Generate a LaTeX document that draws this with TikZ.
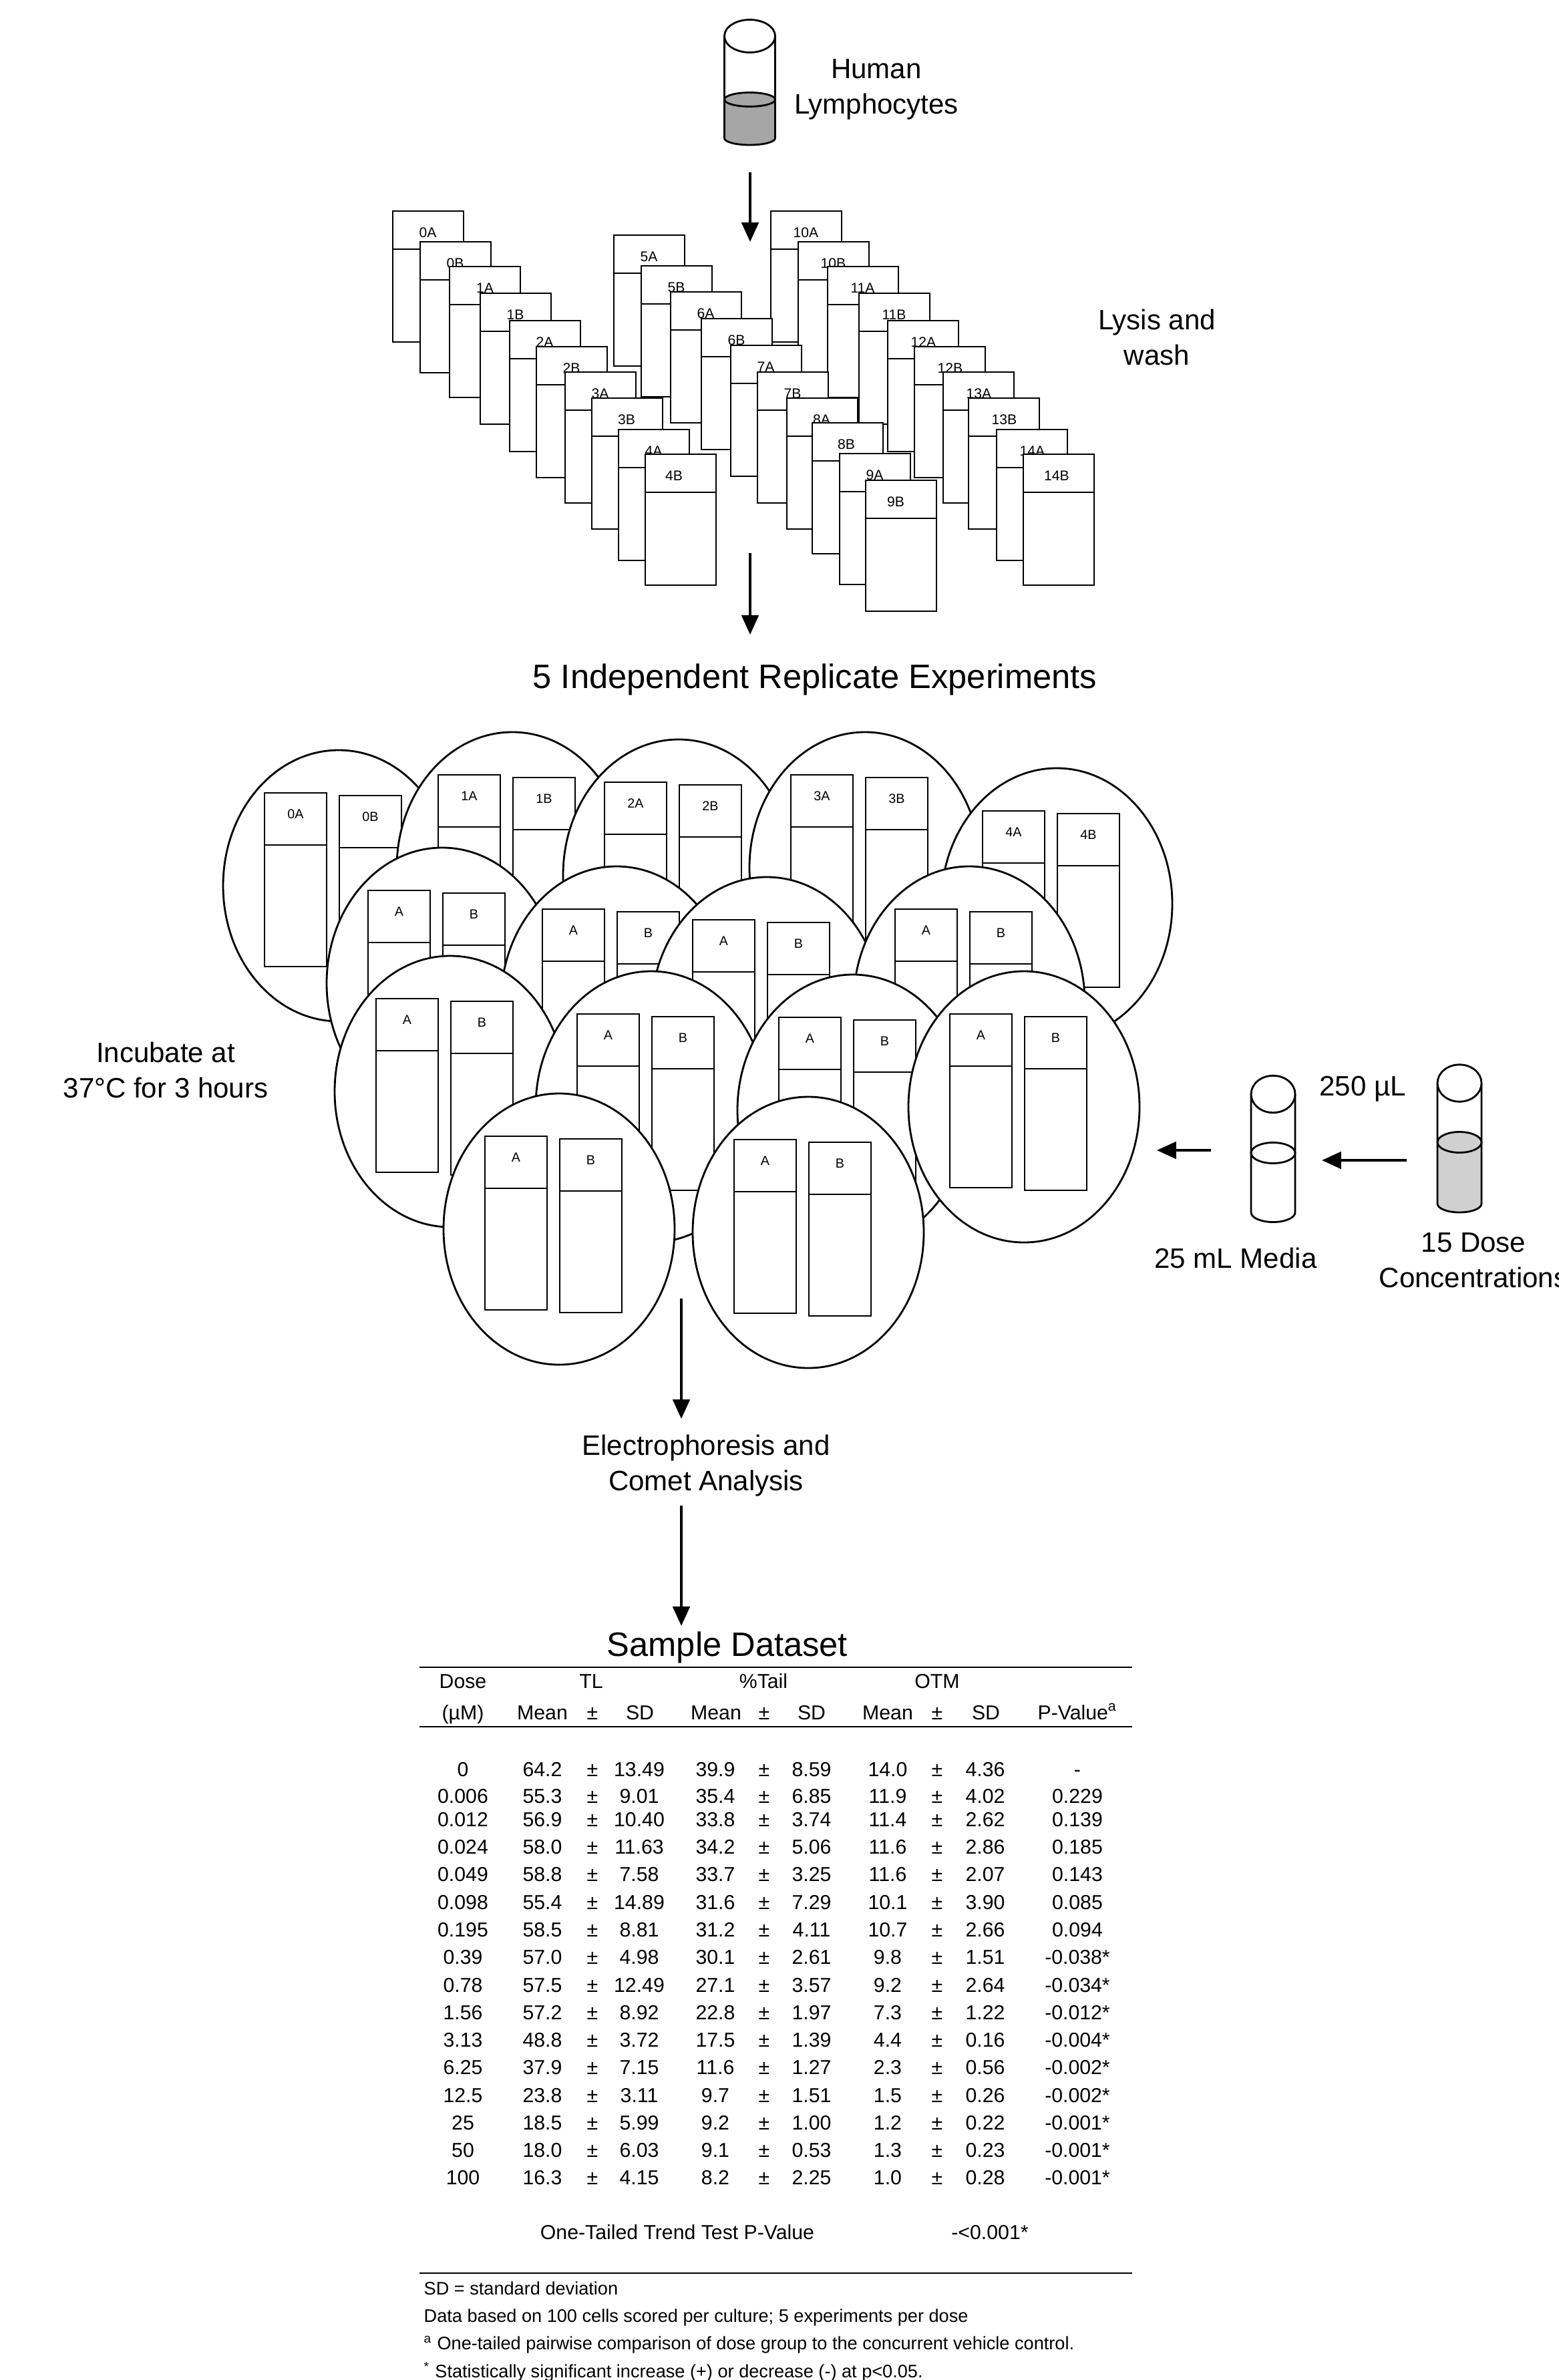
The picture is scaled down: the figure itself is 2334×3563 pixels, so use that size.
\documentclass[tikz,border=0pt]{standalone}
\usepackage{fontspec}
\setmainfont{Liberation Sans}
\usetikzlibrary{arrows.meta}
\definecolor{cellGray}{RGB}{166,166,166}
\definecolor{doseGray}{RGB}{208,208,208}
\tikzset{
  tubeline/.style={draw=black, line width=0.8pt, fill=white},
  flowarrow/.style={line width=1.05pt, -{Triangle[length=8.2pt,width=7.2pt]}},
  bigtext/.style={font=\fontsize{11.95}{15}\selectfont, align=center, inner sep=0pt},
  racklabel/.style={font=\fontsize{6}{7}\selectfont, inner sep=0pt},
  dishlabel/.style={font=\fontsize{5.6}{7}\selectfont, inner sep=0pt},
  titletext/.style={font=\fontsize{14.4}{17}\selectfont, inner sep=0pt},
  cell/.style={font=\fontsize{8.6}{10}\selectfont, inner sep=0pt, anchor=base, yshift=-3pt},
  footnote/.style={font=\fontsize{7.72}{9}\selectfont, inner sep=0pt, anchor=base west, yshift=-2.7pt},
  tablerule/.style={line width=0.4pt}
}
\begin{document}
\begin{tikzpicture}[x=0.01cm, y=-0.01cm]
  \useasboundingbox (0,0) rectangle (2334,3563);

  % Three open tubes: cx / lid y / lid ry / liquid y / liquid ry / bottom y / bottom ry / half width / colour
  \foreach \cx/\lidy/\lidr/\liqy/\liqr/\boty/\botr/\rx/\liq in
    {1122.5/54/24.5/149/10.5/207/10/38/cellGray,
     1906/1638/27.7/1726/15.5/1815/14.5/33/white,
     2185/1621.5/27.7/1710/15.5/1802/13/33/doseGray}{
    \fill[\liq] (\cx-\rx,\liqy) -- (\cx-\rx,\boty)
      arc[start angle=180, end angle=0, x radius=\rx, y radius=\botr] -- (\cx+\rx,\liqy) -- cycle;
    \draw[line width=0.8pt] (\cx-\rx,\lidy) -- (\cx-\rx,\boty)
      arc[start angle=180, end angle=0, x radius=\rx, y radius=\botr] -- (\cx+\rx,\lidy);
    \draw[line width=0.8pt, fill=\liq] (\cx,\liqy) ellipse [x radius=\rx, y radius=\liqr];
    \draw[tubeline] (\cx,\lidy) ellipse [x radius=\rx, y radius=\lidr];
  }

  \node[bigtext] (lymph) at (1312,134) {Human\\Lymphocytes};

  % Culture tubes, back group first
  \foreach \tx/\ty/\lab/\lx in
    {1154/316/10A/52.5, 1195/362/10B/52.5, 1239/399/11A/52.5, 1286/439/11B/52.5, 1329/480/12A/53.5,
     1369/519/12B/53.5, 1412/557/13A/53.5, 1450/596/13B/53.5, 1492/643/14A/53.5, 1532/680/14B/50,
     919/352/5A/52.5, 960/398/5B/52.5, 1004/437/6A/52.5, 1050/477/6B/52.5, 1094/517/7A/52.5,
     1134/557/7B/52.5, 1178/596/8A/52, 1216/633/8B/51, 1257/679/9A/52.5, 1296/719/9B/45,
     588/316/0A/52.5, 629/362/0B/52.5, 673/399/1A/53, 719/439/1B/52.5, 763/480/2A/52.5,
     803/519/2B/52.5, 846/557/3A/52.5, 886/596/3B/52, 926/643/4A/52.5, 966/680/4B/43}{
    \begin{scope}[shift={(\tx,\ty)}]
      \draw[tubeline] (0,0) rectangle (106,196);
      \draw[line width=0.8pt] (0,57) -- (106,57);
      \node[racklabel] (rack\lab) at (\lx,32) {\lab};
    \end{scope}
  }

  \node[bigtext] (lysis) at (1732,505) {Lysis and\\wash};
  \node[titletext] (replicates) at (1220,1017) {5 Independent Replicate Experiments};

  % Dishes, each holding tubes A and B
  \foreach \cx/\cy/\laba/\labb/\id in
    {507/1326/0A/0B/d0, 767/1299/1A/1B/d1, 1016/1310/2A/2B/d2, 1295/1299/3A/3B/d3, 1582/1353/4A/4B/d4,
     662/1472/A/B/d5, 923/1500/A/B/d6, 1148/1516/A/B/d7, 1451/1500/A/B/d8,
     674/1634/A/B/d9, 975/1657/A/B/d10, 1277/1662/A/B/d11, 1533/1657/A/B/d12,
     837/1840/A/B/d13, 1210/1845/A/B/d14}{
    \begin{scope}[shift={(\cx,\cy)}]
      \draw[tubeline] (0,0) ellipse [x radius=173, y radius=203];
      \draw[tubeline] (-111,-139) rectangle (-18,121);
      \draw[line width=0.8pt] (-111,-61) -- (-18,-61);
      \node[dishlabel] (\id a) at (-64.5,-107) {\laba};
      \draw[tubeline] (1,-135) rectangle (94,125);
      \draw[line width=0.8pt] (1,-57) -- (94,-57);
      \node[dishlabel] (\id b) at (47.5,-103) {\labb};
    \end{scope}
  }

  \node[bigtext] (incubate) at (248,1602) {Incubate at\\37°C for 3 hours};
  \node[bigtext] (volume) at (2040,1630) {250 µL};
  \node[bigtext] (media) at (1850,1883) {25 mL Media};
  \node[bigtext] (doses) at (2206,1887) {15 Dose\\Concentrations};
  \node[bigtext] (comet) at (1057,2194) {Electrophoresis and\\Comet Analysis};
  \node[titletext] (sample) at (1089,2466) {Sample Dataset};

  % Arrows
  \coordinate (a1) at (1123,258);
  \coordinate (a2) at (1123,362);
  \coordinate (b1) at (1123,828);
  \coordinate (b2) at (1123,950);
  \coordinate (c1) at (1020,1944);
  \coordinate (c2) at (1020,2124);
  \coordinate (d1) at (1020,2254);
  \coordinate (d2) at (1020,2434);
  \coordinate (e1) at (1813,1722);
  \coordinate (e2) at (1732,1722);
  \coordinate (f1) at (2106,1737);
  \coordinate (f2) at (1979,1737);
  \foreach \from/\to in {a1/a2, b1/b2, c1/c2, d1/d2, e1/e2, f1/f2}
    \draw[flowarrow] (\from) -- (\to);

  % Table rules
  \coordinate (r1l) at (628,2496);
  \coordinate (r1r) at (1695,2496);
  \coordinate (r2l) at (628,2585);
  \coordinate (r2r) at (1695,2585);
  \coordinate (r3l) at (628,3403);
  \coordinate (r3r) at (1695,3403);
  \foreach \from/\to in {r1l/r1r, r2l/r2r, r3l/r3r}
    \draw[tablerule] (\from) -- (\to);

  % Table heads
  \node[cell] (headdose) at (693,2517) {Dose};
  \node[cell] (headtl) at (885,2517) {TL};
  \node[cell] (headtail) at (1143,2517) {\%Tail};
  \node[cell] (headotm) at (1403,2517) {OTM};
  \node[cell] (unit) at (693,2564) {(µM)};
  \foreach \x/\lab/\id in {812/Mean/m1, 887/±/pm1, 958/SD/s1, 1072/Mean/m2, 1144/±/pm2, 1215/SD/s2, 1329/Mean/m3, 1403/±/pm3, 1476/SD/s3}
    \node[cell] (head\id) at (\x,2564) {\lab};
  \node[cell] (headp) at (1613,2564) {P-Value\textsuperscript{a}};

  % Table rows
  \foreach \yy/\dose/\ma/\sa/\mb/\sb/\mc/\sc/\pv [count=\row] in
    {2649/0/64.2/13.49/39.9/8.59/14.0/4.36/-,
     2689/0.006/55.3/9.01/35.4/6.85/11.9/4.02/0.229,
     2724/0.012/56.9/10.40/33.8/3.74/11.4/2.62/0.139,
     2765/0.024/58.0/11.63/34.2/5.06/11.6/2.86/0.185,
     2806/0.049/58.8/7.58/33.7/3.25/11.6/2.07/0.143,
     2848/0.098/55.4/14.89/31.6/7.29/10.1/3.90/0.085,
     2889/0.195/58.5/8.81/31.2/4.11/10.7/2.66/0.094,
     2930/0.39/57.0/4.98/30.1/2.61/9.8/1.51/-0.038*,
     2972/0.78/57.5/12.49/27.1/3.57/9.2/2.64/-0.034*,
     3013/1.56/57.2/8.92/22.8/1.97/7.3/1.22/-0.012*,
     3054/3.13/48.8/3.72/17.5/1.39/4.4/0.16/-0.004*,
     3095/6.25/37.9/7.15/11.6/1.27/2.3/0.56/-0.002*,
     3137/12.5/23.8/3.11/9.7/1.51/1.5/0.26/-0.002*,
     3178/25/18.5/5.99/9.2/1.00/1.2/0.22/-0.001*,
     3219/50/18.0/6.03/9.1/0.53/1.3/0.23/-0.001*,
     3260/100/16.3/4.15/8.2/2.25/1.0/0.28/-0.001*}{
    \node[cell] (dose\row) at (693,\yy) {\dose};
    \node[cell] (meana\row) at (812,\yy) {\ma};
    \node[cell] (pma\row) at (887,\yy) {±};
    \node[cell] (sda\row) at (957,\yy) {\sa};
    \node[cell] (meanb\row) at (1071,\yy) {\mb};
    \node[cell] (pmb\row) at (1144,\yy) {±};
    \node[cell] (sdb\row) at (1215,\yy) {\sb};
    \node[cell] (meanc\row) at (1329,\yy) {\mc};
    \node[cell] (pmc\row) at (1403,\yy) {±};
    \node[cell] (sdc\row) at (1475,\yy) {\sc};
    \node[cell] (pval\row) at (1613,\yy) {\pv};
  }

  \node[cell] (trend) at (1014,3342) {One-Tailed Trend Test P-Value};
  \node[cell] (trendp) at (1482,3342) {-<0.001*};

  % Footnotes
  \node[footnote] (note1) at (634,3426) {SD = standard deviation};
  \node[footnote] (note2) at (634,3467) {Data based on 100 cells scored per culture; 5 experiments per dose};
  \node[footnote] (note3) at (634,3508) {\textsuperscript{a} One-tailed pairwise comparison of dose group to the concurrent vehicle control.};
  \node[footnote] (note4) at (634,3550) {\textsuperscript{*} Statistically significant increase (+) or decrease (-) at p<0.05.};
\end{tikzpicture}
\end{document}
